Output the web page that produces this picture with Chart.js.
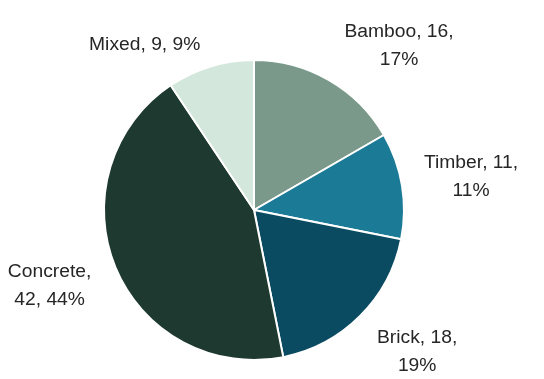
<!DOCTYPE html>
<html>
<head>
<meta charset="utf-8">
<script src="https://cdn.jsdelivr.net/npm/chart.js@4"></script>
<style>
    html, body { margin: 0; padding: 0; background: #ffffff; }
    #wrap { width: 544px; height: 379px; }
</style>
</head>
<body>
<div id="wrap"><canvas id="chart"></canvas></div>
<script>
const categories = ['Bamboo', 'Timber', 'Brick', 'Concrete', 'Mixed'];
const counts = [16, 11, 18, 42, 9];
const sliceColors = ['#7a998a', '#1b7b96', '#0b4b62', '#1e392f', '#d3e7dc'];

// words on the first line of each label (0 = single line)
const labelBreaks = [2, 2, 2, 1, 0];
// nudges from the radial label anchor
const labelShifts = [[36, 25], [2, 3], [9, -12], [-3, -7], [-46, 44]];

const total = counts.reduce((a, b) => a + b, 0);

const outsideLabels = {
    id: 'outsideLabels',
    afterDatasetsDraw(chart) {
        const ctx = chart.ctx;
        const arcs = chart.getDatasetMeta(0).data;
        ctx.save();
        ctx.font = '18px "Liberation Sans", Arial, sans-serif';
        ctx.fillStyle = '#262626';
        ctx.textAlign = 'center';
        ctx.textBaseline = 'middle';
        arcs.forEach((arc, i) => {
            const mid = (arc.startAngle + arc.endAngle) / 2;
            const dist = arc.outerRadius + 68;
            const x = arc.x + Math.cos(mid) * dist + labelShifts[i][0];
            const y = arc.y + Math.sin(mid) * dist + labelShifts[i][1];
            const pct = Math.round(counts[i] / total * 100);
            const words = `${categories[i]}, ${counts[i]}, ${pct}%`.split(' ');
            const lines = labelBreaks[i] > 0
                ? [words.slice(0, labelBreaks[i]).join(' '), words.slice(labelBreaks[i]).join(' ')]
                : [words.join(' ')];
            const lineHeight = 28;
            const top = y - (lines.length - 1) * lineHeight / 2;
            lines.forEach((line, j) => {
                // labels are set slightly wide
                ctx.save();
                ctx.translate(x, top + j * lineHeight);
                ctx.scale(1.07, 1);
                ctx.fillText(line, 0, 0);
                ctx.restore();
            });
        });
        ctx.restore();
    }
};

new Chart(document.getElementById('chart'), {
    type: 'pie',
    data: {
        labels: categories,
        datasets: [{
            data: counts,
            backgroundColor: sliceColors,
            borderColor: '#ffffff',
            borderWidth: 2,
        }],
    },
    options: {
        responsive: true,
        maintainAspectRatio: false,
        animation: false,
        layout: {
            padding: { top: 59, bottom: 18, left: 103, right: 139 }
        },
        plugins: {
            legend: { display: false },
            tooltip: { enabled: false }
        }
    },
    plugins: [outsideLabels]
});
</script>
</body>
</html>
